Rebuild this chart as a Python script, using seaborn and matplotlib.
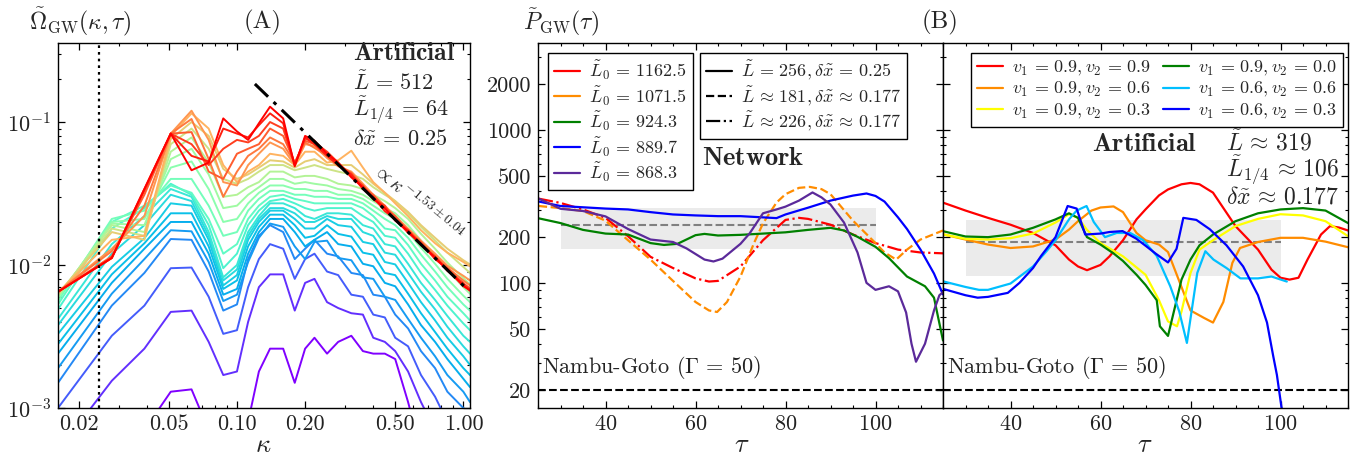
import numpy as np
import pandas as pd
import matplotlib
matplotlib.use("Agg")
import matplotlib.pyplot as plt
import matplotlib.ticker as mticker
import seaborn as sns

# ---------------- Panel A: spectra Omega_GW(kappa) at successive times ----------------
KAPPA = [0.0162, 0.028, 0.039, 0.051, 0.063, 0.075, 0.087, 0.1, 0.112, 0.125, 0.14, 0.16, 0.18, 0.2,
         0.22, 0.25, 0.28, 0.32, 0.36, 0.4, 0.45, 0.5, 0.57, 0.65, 0.75, 0.85, 1.0, 1.07]

TIMES = [0.00, 0.06, 0.12, 0.18, 0.21, 0.24, 0.27, 0.30, 0.33, 0.36, 0.40, 0.44, 0.48,
         0.52, 0.56, 0.60, 0.65, 0.70, 0.75, 0.80, 0.84, 0.88, 0.92, 0.96, 1.00]

SPEC_00 = [2e-4, 4e-4, 7e-4, 1.3e-3, 1.35e-3, 7e-4, 3e-4, 4e-4, 8e-4, 1.8e-3, 2.6e-3, 2.6e-3, 1.5e-3, 2.6e-3,
           3.1e-3, 2.4e-3, 2.9e-3, 3.2e-3, 2.5e-3, 2.4e-3, 2.4e-3, 2.2e-3, 1.1e-3, 5e-4, 3e-4, 2e-4, 1.5e-4, 1.2e-4]
SPEC_06 = [5e-4, 1.55e-3, 2.6e-3, 4.7e-3, 4.8e-3, 2.9e-3, 1.7e-3, 1.8e-3, 4.0e-3, 7.0e-3, 8.6e-3, 8.6e-3, 4.8e-3,
           7.5e-3, 8.0e-3, 5.5e-3, 5.0e-3, 4.6e-3, 4.5e-3, 3.1e-3, 2.9e-3, 2.5e-3, 1.8e-3, 1.1e-3, 7e-4, 5e-4,
           3e-4, 2.5e-4]
SPEC_12 = [1.0e-3, 3.2e-3, 5.2e-3, 9.5e-3, 9.6e-3, 6e-3, 3.3e-3, 3.5e-3, 7e-3, 0.011, 0.014, 0.013, 0.008, 0.011,
           0.012, 0.009, 0.0085, 0.0062, 0.006, 0.0045, 0.0043, 0.0031, 0.0027, 0.0017, 0.0012, 0.0008, 0.0006,
           0.0005]
SPEC_18 = [1.5e-3, 5.2e-3, 8.8e-3, 0.0152, 0.015, 0.009, 0.0048, 0.0053, 0.011, 0.016, 0.019, 0.017, 0.011, 0.013,
           0.015, 0.012, 0.0115, 0.0088, 0.0085, 0.0062, 0.006, 0.0045, 0.0036, 0.0025, 0.0019, 0.0013, 0.001,
           0.0009]
SPEC_21 = [1.9e-3, 6.3e-3, 0.011, 0.0175, 0.0172, 0.0105, 0.0056, 0.0062, 0.0105, 0.0155, 0.0195, 0.0185, 0.0135,
           0.011, 0.0145, 0.0148, 0.0112, 0.0108, 0.0082, 0.008, 0.006, 0.0057, 0.0042, 0.0031, 0.0023, 0.0017,
           0.0013, 0.0011]
SPEC_24 = [2.4e-3, 7.5e-3, 0.013, 0.02, 0.02, 0.012, 0.0062, 0.0068, 0.012, 0.017, 0.021, 0.021, 0.017, 0.0135,
           0.015, 0.017, 0.014, 0.0135, 0.0102, 0.0098, 0.0075, 0.0071, 0.0053, 0.0038, 0.0029, 0.0022, 0.0016,
           0.0014]
SPEC_27 = [2.8e-3, 8.6e-3, 0.0142, 0.023, 0.023, 0.0135, 0.0068, 0.0078, 0.0135, 0.0185, 0.0225, 0.0225, 0.019,
           0.0155, 0.016, 0.019, 0.0165, 0.0158, 0.0122, 0.0118, 0.0088, 0.0085, 0.0063, 0.0046, 0.0034, 0.0026,
           0.0019, 0.0017]
SPEC_30 = [3.3e-3, 9.7e-3, 0.0154, 0.027, 0.026, 0.015, 0.0072, 0.0085, 0.015, 0.02, 0.024, 0.024, 0.021, 0.018,
           0.018, 0.021, 0.019, 0.0185, 0.0145, 0.014, 0.0105, 0.0101, 0.0075, 0.0055, 0.0041, 0.0031, 0.0023, 0.002]
SPEC_33 = [3.8e-3, 0.012, 0.019, 0.031, 0.028, 0.016, 0.0078, 0.0093, 0.016, 0.021, 0.025, 0.025, 0.023, 0.02,
           0.02, 0.022, 0.021, 0.021, 0.017, 0.016, 0.0122, 0.0118, 0.0088, 0.0065, 0.0049, 0.0037, 0.0027, 0.0024]
SPEC_36 = [4.2e-3, 0.014, 0.022, 0.034, 0.03, 0.017, 0.0082, 0.01, 0.017, 0.022, 0.027, 0.027, 0.025, 0.022,
           0.021, 0.023, 0.023, 0.0225, 0.019, 0.018, 0.014, 0.0135, 0.0102, 0.0075, 0.0057, 0.0044, 0.0032, 0.0029]
SPEC_40 = [4.9e-3, 0.018, 0.025, 0.037, 0.031, 0.019, 0.0095, 0.012, 0.019, 0.024, 0.028, 0.029, 0.027, 0.025,
           0.024, 0.025, 0.025, 0.025, 0.022, 0.02, 0.016, 0.0155, 0.012, 0.0088, 0.0067, 0.0052, 0.0039, 0.0035]
SPEC_44 = [5.3e-3, 0.02, 0.026, 0.036, 0.032, 0.021, 0.012, 0.014, 0.021, 0.026, 0.03, 0.031, 0.029, 0.028,
           0.027, 0.027, 0.027, 0.027, 0.025, 0.022, 0.018, 0.0175, 0.0138, 0.0102, 0.0078, 0.006, 0.0046, 0.0041]
SPEC_48 = [5.6e-3, 0.021, 0.024, 0.04, 0.04, 0.026, 0.016, 0.017, 0.024, 0.029, 0.033, 0.033, 0.031, 0.031,
           0.03, 0.03, 0.029, 0.029, 0.027, 0.024, 0.021, 0.019, 0.0155, 0.0118, 0.009, 0.007, 0.0053, 0.0048]
SPEC_52 = [5.9e-3, 0.02, 0.021, 0.048, 0.053, 0.034, 0.02, 0.021, 0.027, 0.032, 0.036, 0.036, 0.034, 0.034,
           0.033, 0.033, 0.031, 0.031, 0.029, 0.026, 0.023, 0.021, 0.017, 0.0132, 0.0102, 0.008, 0.0061, 0.0055]
SPEC_56 = [6.0e-3, 0.0195, 0.019, 0.055, 0.065, 0.043, 0.025, 0.026, 0.031, 0.035, 0.04, 0.04, 0.037, 0.038,
           0.037, 0.036, 0.034, 0.033, 0.031, 0.028, 0.025, 0.023, 0.019, 0.0148, 0.0115, 0.0092, 0.007, 0.0063]
SPEC_60 = [6.1e-3, 0.019, 0.017, 0.062, 0.078, 0.052, 0.03, 0.031, 0.035, 0.038, 0.045, 0.045, 0.041, 0.042,
           0.042, 0.04, 0.037, 0.036, 0.034, 0.031, 0.028, 0.025, 0.021, 0.0165, 0.013, 0.0104, 0.0081, 0.0073]
SPEC_65 = [6.2e-3, 0.018, 0.016, 0.07, 0.09, 0.065, 0.04, 0.037, 0.04, 0.045, 0.05, 0.05, 0.046, 0.048,
           0.05, 0.047, 0.045, 0.043, 0.04, 0.035, 0.031, 0.028, 0.023, 0.0185, 0.0148, 0.0122, 0.0097, 0.0088]
SPEC_70 = [6.3e-3, 0.017, 0.015, 0.076, 0.1, 0.08, 0.047, 0.04, 0.043, 0.048, 0.054, 0.053, 0.048, 0.053,
           0.055, 0.05, 0.05, 0.05, 0.043, 0.037, 0.032, 0.028, 0.0235, 0.019, 0.0155, 0.013, 0.0108, 0.0101]
SPEC_75 = [6.4e-3, 0.015, 0.016, 0.08, 0.115, 0.09, 0.05, 0.038, 0.045, 0.05, 0.06, 0.058, 0.05, 0.062,
           0.062, 0.052, 0.054, 0.063, 0.048, 0.038, 0.032, 0.027, 0.022, 0.0175, 0.0142, 0.0122, 0.0105, 0.0098]
SPEC_80 = [6.5e-3, 0.013, 0.022, 0.083, 0.12, 0.075, 0.038, 0.036, 0.05, 0.06, 0.072, 0.065, 0.05, 0.07,
           0.068, 0.056, 0.049, 0.045, 0.037, 0.031, 0.026, 0.022, 0.018, 0.0148, 0.012, 0.0099, 0.0084, 0.0078]
SPEC_84 = [6.5e-3, 0.0125, 0.026, 0.083, 0.105, 0.055, 0.03, 0.045, 0.058, 0.065, 0.078, 0.07, 0.052, 0.072,
           0.066, 0.058, 0.05, 0.043, 0.036, 0.03, 0.025, 0.0215, 0.0175, 0.0142, 0.0116, 0.0096, 0.0078, 0.0072]
SPEC_88 = [6.5e-3, 0.0115, 0.031, 0.083, 0.085, 0.045, 0.04, 0.06, 0.065, 0.07, 0.09, 0.08, 0.052, 0.074,
           0.07, 0.059, 0.05, 0.044, 0.035, 0.031, 0.025, 0.022, 0.0172, 0.0145, 0.0112, 0.0095, 0.0074, 0.0069]
SPEC_92 = [6.5e-3, 0.0112, 0.033, 0.083, 0.07, 0.05, 0.065, 0.075, 0.072, 0.08, 0.1, 0.09, 0.05, 0.077,
           0.072, 0.062, 0.052, 0.042, 0.036, 0.029, 0.026, 0.0205, 0.0176, 0.0138, 0.0115, 0.0091, 0.0075, 0.0067]
SPEC_96 = [6.5e-3, 0.0112, 0.034, 0.083, 0.058, 0.053, 0.09, 0.083, 0.078, 0.095, 0.115, 0.098, 0.05, 0.078,
           0.07, 0.058, 0.05, 0.043, 0.034, 0.03, 0.0238, 0.021, 0.0168, 0.0142, 0.011, 0.0094, 0.0071, 0.0067]
SPEC_100 = [6.5e-3, 0.0112, 0.034, 0.083, 0.046, 0.052, 0.106, 0.086, 0.075, 0.098, 0.128, 0.106, 0.049, 0.08,
            0.074, 0.06, 0.052, 0.041, 0.035, 0.029, 0.025, 0.0205, 0.0172, 0.0138, 0.0113, 0.0092, 0.0072, 0.0066]

SPECTRA = [SPEC_00, SPEC_06, SPEC_12, SPEC_18, SPEC_21, SPEC_24, SPEC_27, SPEC_30, SPEC_33, SPEC_36,
           SPEC_40, SPEC_44, SPEC_48, SPEC_52, SPEC_56, SPEC_60, SPEC_65, SPEC_70, SPEC_75, SPEC_80,
           SPEC_84, SPEC_88, SPEC_92, SPEC_96, SPEC_100]

# power-law fit and reference scale
FIT_AMP = 0.0072
FIT_SLOPE = -1.53
FIT_RANGE = [0.12, 1.05]
KAPPA_REF = 0.0245

# ---------------- Panel B (left): network runs ----------------
NET_RED_TAU = [25.2, 30, 35, 40, 45, 50, 55, 60, 63, 65, 70, 75, 80, 83, 85, 90, 95, 100, 105, 110, 115]
NET_RED_P = [355, 333, 302, 266, 202, 148, 125, 107, 102, 103, 128, 190, 258, 266, 262, 240, 207, 182, 165, 158, 156]

NET_ORANGE_TAU = [25.2, 30, 35, 40, 45, 50, 55, 60, 63, 64.8, 67, 70, 73, 75, 78, 80, 83, 85.4, 88, 90,
                  95, 100, 102, 104.6, 107, 110, 115]
NET_ORANGE_P = [318, 308, 295, 255, 190, 142, 103, 75, 66, 64.5, 75, 110, 182, 245, 335, 380, 418, 424, 410, 380,
                255, 182, 158, 142, 165, 192, 220]

NET_GREEN_TAU = [25.2, 30, 35, 40, 45, 50, 53, 56, 60, 62, 65, 70, 75, 80, 85, 90, 93, 96, 100, 103, 107,
                 111, 113, 115]
NET_GREEN_P = [264, 246, 222, 210, 207, 182, 177, 180, 205, 209, 204, 206, 210, 214, 222, 229, 220, 200, 172, 145,
               110, 95, 80, 42]

NET_BLUE_TAU = [25.2, 30, 35, 40, 45, 50, 55, 60, 65, 70, 75, 78, 80, 85, 90, 95, 98, 100, 102, 105, 107,
                110, 113, 115]
NET_BLUE_P = [340, 318, 312, 306, 302, 290, 280, 276, 273, 273, 268, 265, 280, 310, 345, 372, 384, 370, 340, 268,
              225, 165, 115, 84]

NET_PURPLE_TAU = [25.2, 30, 35, 40, 45, 50, 55, 58, 62, 64, 66, 70, 72, 75, 78, 80, 83, 86, 88, 90, 93, 96,
                  98, 100, 103, 105, 106.8, 108, 109, 111, 113, 114.2, 115]
NET_PURPLE_P = [355, 305, 295, 272, 225, 192, 185, 168, 142, 138, 144, 180, 210, 285, 302, 315, 345, 390, 362, 325,
                248, 158, 100, 90, 95, 88, 64, 40, 30.5, 40, 66, 83, 87]

NET_LABELS = [r'$\tilde{L}_0\,=\,1162.5$', r'$\tilde{L}_0\,=\,1071.5$', r'$\tilde{L}_0\,=\,924.3$',
              r'$\tilde{L}_0\,=\,889.7$', r'$\tilde{L}_0\,=\,868.3$']
NET_STYLE_LABELS = [r'$\tilde{L}\,=\,256, \delta\tilde{x}\,=\,0.25$',
                    r'$\tilde{L}\,\approx\,181, \delta\tilde{x}\,\approx\,0.177$',
                    r'$\tilde{L}\,\approx\,226, \delta\tilde{x}\,\approx\,0.177$']

# ---------------- Panel B (right): artificial collisions ----------------
ART_RED_TAU = [25.2, 30, 35, 40, 45, 50, 53, 55, 57, 60, 62, 65, 68, 70, 73, 75, 78, 80, 82, 85, 87, 90,
               93, 95, 98, 100, 102, 104, 106, 109, 111, 113, 115]
ART_RED_P = [333, 297, 266, 240, 212, 176, 142, 128, 121, 131, 149, 190, 260, 302, 373, 408, 441, 450, 441, 389,
             318, 235, 190, 165, 122, 108, 105, 108, 142, 207, 235, 230, 220]

ART_ORANGE_TAU = [25.2, 30, 35, 40, 45, 50, 53, 55, 58, 60, 62.9, 65, 68, 70, 73, 75, 78, 80, 83, 85, 87.3,
                  89.3, 91, 95, 100, 105, 110, 115]
ART_ORANGE_P = [207, 192, 178, 169, 173, 192, 223, 253, 297, 311, 316, 290, 212, 190, 178, 159, 94, 66, 59, 55, 75,
                135, 169, 185, 197, 197, 186, 171]

ART_YELLOW_TAU = [25.2, 30, 35, 40, 45, 50, 53, 55, 57, 60, 65, 70, 73, 75, 77, 78, 80, 82, 85, 90, 95, 100,
                  105, 110, 115]
ART_YELLOW_P = [207, 194, 192, 196, 210, 248, 281, 266, 222, 182, 149, 113, 77, 56, 52, 65, 116, 165, 190, 235, 262,
                281, 276, 253, 202]

ART_GREEN_TAU = [25.2, 30, 35, 40, 45, 50, 53, 55, 57, 60, 63, 65, 68, 70, 72.5, 73.2, 75, 77, 78, 80, 82,
                 85, 90, 95, 100, 105, 110, 115]
ART_GREEN_P = [217, 201, 199, 207, 229, 260, 285, 266, 199, 178, 155, 139, 113, 97, 77, 52, 45, 79, 105, 142, 176,
               207, 253, 285, 302, 308, 297, 246]

ART_CYAN_TAU = [25.2, 30, 33, 35, 40, 45, 48, 50, 53, 54.7, 56.9, 58.5, 61, 63.6, 66.6, 69.5, 72.5, 75.5,
                77.5, 79.2, 81.5, 83.3, 85.1, 88, 91.1, 95, 98, 101.4]
ART_CYAN_P = [102, 94, 90, 90, 99, 128, 161, 190, 260, 297, 318, 250, 199, 212, 212, 190, 150, 95, 65, 40.5, 116,
              161, 142, 125, 107, 107, 110, 102]

ART_BLUE_TAU = [25.2, 30, 32.7, 35, 39.4, 42, 45, 46.8, 50, 52.7, 54.7, 56.6, 60, 62, 64.9, 67.9, 70, 72.3,
                75, 76.9, 78.4, 81.3, 84.3, 88, 91.7, 95, 97, 98.4, 99.2, 100.2, 100.8]
ART_BLUE_P = [91, 83, 80, 81, 86, 100, 125, 150, 199, 318, 306, 207, 210, 215, 218, 195, 175, 155, 136, 167, 266,
              258, 224, 176, 128, 83, 55, 33, 25, 15.5, 13]

ART_LABELS = [r'$v_1\,=\,0.9, v_2\,=\,0.9$', r'$v_1\,=\,0.9, v_2\,=\,0.6$', r'$v_1\,=\,0.9, v_2\,=\,0.3$',
              r'$v_1\,=\,0.9, v_2\,=\,0.0$', r'$v_1\,=\,0.6, v_2\,=\,0.6$', r'$v_1\,=\,0.6, v_2\,=\,0.3$']

# scaling band, its mean, Nambu-Goto level
NET_BAND = [30, 100, 167, 307, 238]
ART_BAND = [30, 100, 111, 256, 184]
NG_LEVEL = 20

# ---------------- style ----------------
sns.set_style("ticks", {"xtick.direction": "in", "ytick.direction": "in"})
plt.rcParams['font.family'] = ['cmr10', 'DejaVu Serif']
plt.rcParams['mathtext.fontset'] = 'cm'
plt.rcParams['axes.formatter.use_mathtext'] = True
plt.rcParams['axes.unicode_minus'] = False
plt.rcParams['axes.linewidth'] = 1.0
plt.rcParams['axes.edgecolor'] = 'black'

C_RED, C_ORANGE, C_GREEN, C_BLUE, C_PURPLE = '#ff0000', '#ff8c00', '#008000', '#0000ff', '#5b2a9a'
C_YELLOW, C_CYAN = '#ffff00', '#00bfff'

fig = plt.figure(figsize=(13.53, 4.58), dpi=100)
W, H = 1353.0, 458.0
axA = fig.add_axes([58 / W, 50 / H, 412 / W, 365 / H])
axB = fig.add_axes([538 / W, 50 / H, 405 / W, 365 / H])
axC = fig.add_axes([943 / W, 50 / H, 405 / W, 365 / H])


def style_ticks(ax, labelsize=16):
    ax.tick_params(which='both', direction='in', top=True, right=True, colors='black',
                   labelsize=labelsize, labelcolor='#222222')
    ax.tick_params(which='major', length=5, width=0.9, pad=5)
    ax.tick_params(which='minor', length=2.5, width=0.8)


def boxed_legend(ax, handles, labels, anchor, ncol=1):
    leg = ax.legend(handles, labels, loc='upper left', bbox_to_anchor=anchor, ncol=ncol, fontsize=13,
                    frameon=True, fancybox=False, edgecolor='black', framealpha=1, handlelength=1.4,
                    borderpad=0.35, labelspacing=0.12, handletextpad=0.5, columnspacing=0.7,
                    borderaxespad=0)
    leg.get_frame().set_linewidth(1.0)
    return leg


# ---- Panel A ----
rows = []
for t, spec in zip(TIMES, SPECTRA):
    for k, om in zip(KAPPA, spec):
        rows.append({'kappa': k, 'omega': om, 't': t})
spec_df = pd.DataFrame(rows)
sns.lineplot(data=spec_df, x='kappa', y='omega', hue='t', units='t', estimator=None,
             palette='rainbow', hue_norm=(0, 1), legend=False, lw=1.4, ax=axA)
fit_k = np.array(FIT_RANGE)
axA.plot(fit_k, FIT_AMP * fit_k ** FIT_SLOPE, color='black', lw=2.2, ls=(0, (6, 2.5, 1.2, 2.5)), zorder=5)
axA.axvline(KAPPA_REF, color='black', lw=1.6, ls=(0, (1.2, 1.8)), zorder=5)
axA.set_xscale('log')
axA.set_yscale('log')
axA.set_xlim(0.0162, 1.07)
axA.set_ylim(1e-3, 0.357)
axA.xaxis.set_major_locator(mticker.FixedLocator([0.02, 0.05, 0.1, 0.2, 0.5, 1.0]))
axA.xaxis.set_major_formatter(mticker.FixedFormatter(['0.02', '0.05', '0.10', '0.20', '0.50', '1.00']))
axA.xaxis.set_minor_locator(mticker.LogLocator(base=10, subs=np.arange(2, 10)))
axA.xaxis.set_minor_formatter(mticker.NullFormatter())
axA.yaxis.set_major_locator(mticker.FixedLocator([1e-3, 1e-2, 1e-1]))
axA.yaxis.set_minor_locator(mticker.LogLocator(base=10, subs=np.arange(2, 10)))
axA.yaxis.set_minor_formatter(mticker.NullFormatter())
axA.set_xlabel('')
axA.set_ylabel('')
style_ticks(axA)

axA.text(0.715, 0.972, r'$\mathbf{Artificial}$', transform=axA.transAxes, fontsize=18.5, ha='left', va='center')
axA.text(0.715, 0.893, r'$\tilde{L}\,=\,512$', transform=axA.transAxes, fontsize=16, ha='left', va='center')
axA.text(0.715, 0.815, r'$\tilde{L}_{1/4}\,=\,64$', transform=axA.transAxes, fontsize=16, ha='left', va='center')
axA.text(0.715, 0.738, r'$\delta\tilde{x}\,=\,0.25$', transform=axA.transAxes, fontsize=16, ha='left',
         va='center')
axA.text(0.63, 0.027, r'$\propto \kappa^{-1.53 \pm 0.04}$', fontsize=14, rotation=-40,
         ha='center', va='center', rotation_mode='anchor')

# ---- Panel B left ----
axB.fill_between(NET_BAND[:2], NET_BAND[2], NET_BAND[3], color='#ebebeb', lw=0, zorder=0)
axB.plot(NET_BAND[:2], [NET_BAND[4]] * 2, color='gray', ls='--', lw=1.5, zorder=1)
axB.axhline(NG_LEVEL, color='black', ls='--', lw=1.5)
sns.lineplot(x=NET_RED_TAU, y=NET_RED_P, color=C_RED, ls='-.', lw=1.6, sort=False, ax=axB)
sns.lineplot(x=NET_ORANGE_TAU, y=NET_ORANGE_P, color=C_ORANGE, ls='--', lw=1.6, sort=False, ax=axB)
sns.lineplot(x=NET_GREEN_TAU, y=NET_GREEN_P, color=C_GREEN, lw=1.6, sort=False, ax=axB)
sns.lineplot(x=NET_BLUE_TAU, y=NET_BLUE_P, color=C_BLUE, lw=1.6, sort=False, ax=axB)
sns.lineplot(x=NET_PURPLE_TAU, y=NET_PURPLE_P, color=C_PURPLE, lw=1.6, sort=False, ax=axB)

# ---- Panel B right ----
axC.fill_between(ART_BAND[:2], ART_BAND[2], ART_BAND[3], color='#ebebeb', lw=0, zorder=0)
axC.plot(ART_BAND[:2], [ART_BAND[4]] * 2, color='gray', ls='--', lw=1.5, zorder=1)
axC.axhline(NG_LEVEL, color='black', ls='--', lw=1.5)
art = [(ART_RED_TAU, ART_RED_P, C_RED), (ART_ORANGE_TAU, ART_ORANGE_P, C_ORANGE),
       (ART_YELLOW_TAU, ART_YELLOW_P, C_YELLOW), (ART_GREEN_TAU, ART_GREEN_P, C_GREEN),
       (ART_CYAN_TAU, ART_CYAN_P, C_CYAN), (ART_BLUE_TAU, ART_BLUE_P, C_BLUE)]
for tau, p, c in art:
    sns.lineplot(x=tau, y=p, color=c, lw=1.6, sort=False, ax=axC)

for ax in (axB, axC):
    ax.set_yscale('log')
    ax.set_ylim(15.2, 3700)
    ax.set_xlim(25, 115)
    ax.xaxis.set_major_locator(mticker.MultipleLocator(20))
    ax.xaxis.set_minor_locator(mticker.MultipleLocator(5))
    ax.yaxis.set_major_locator(mticker.FixedLocator([20, 50, 100, 200, 500, 1000, 2000]))
    ax.yaxis.set_minor_locator(mticker.LogLocator(base=10, subs=np.arange(2, 10)))
    ax.yaxis.set_minor_formatter(mticker.NullFormatter())
    ax.set_xlabel('')
    ax.set_ylabel('')
    style_ticks(ax)
    ax.text(0.01, 0.075, r'Nambu-Goto ($\mathit{\Gamma}\,=\,50$)', transform=ax.transAxes,
            fontsize=16, ha='left', va='bottom', color='#222222')
axB.yaxis.set_major_formatter(mticker.FixedFormatter(['20', '50', '100', '200', '500', '1000', '2000']))
axC.yaxis.set_major_formatter(mticker.NullFormatter())

# legends
color_handles = [plt.Line2D([], [], color=c, lw=1.6) for c in (C_RED, C_ORANGE, C_GREEN, C_BLUE, C_PURPLE)]
leg1 = boxed_legend(axB, color_handles, NET_LABELS, (0.025, 0.973))
axB.add_artist(leg1)
style_handles = [plt.Line2D([], [], color='black', lw=1.6, ls=s) for s in ('-', '--', '-.')]
boxed_legend(axB, style_handles, NET_STYLE_LABELS, (0.40, 0.973))
axB.text(0.405, 0.685, r'$\mathbf{Network}$', transform=axB.transAxes, fontsize=19, ha='left', va='center')

art_handles = [plt.Line2D([], [], color=c, lw=1.6) for _, _, c in art]
boxed_legend(axC, art_handles, ART_LABELS, (0.069, 0.973), ncol=2)
axC.text(0.368, 0.722, r'$\mathbf{Artificial}$', transform=axC.transAxes, fontsize=19, ha='left', va='center')
axC.text(0.700, 0.728, r'$\tilde{L}\,\approx\,319$', transform=axC.transAxes, fontsize=17, ha='left',
         va='center')
axC.text(0.700, 0.652, r'$\tilde{L}_{1/4}\,\approx\,106$', transform=axC.transAxes, fontsize=17, ha='left',
         va='center')
axC.text(0.700, 0.578, r'$\delta\tilde{x}\,\approx\,0.177$', transform=axC.transAxes, fontsize=17, ha='left',
         va='center')

# figure level labels
fig.text(80 / W, 1 - 22 / H, r'$\tilde{\Omega}_{\rm GW}(\kappa, \tau)$', fontsize=17, ha='center', va='center')
fig.text(263 / W, 1 - 22 / H, '(A)', fontsize=18, ha='center', va='center')
fig.text(561 / W, 1 - 22 / H, r'$\tilde{P}_{\rm GW}(\tau)$', fontsize=17, ha='center', va='center')
fig.text(940 / W, 1 - 22 / H, '(B)', fontsize=18, ha='center', va='center')
fig.text(263 / W, 1 - 445 / H, r'$\kappa$', fontsize=19, ha='center', va='center')
fig.text(742 / W, 1 - 445 / H, r'$\tau$', fontsize=19, ha='center', va='center')
fig.text(1145 / W, 1 - 445 / H, r'$\tau$', fontsize=19, ha='center', va='center')

fig.savefig('out.png', dpi=100)
